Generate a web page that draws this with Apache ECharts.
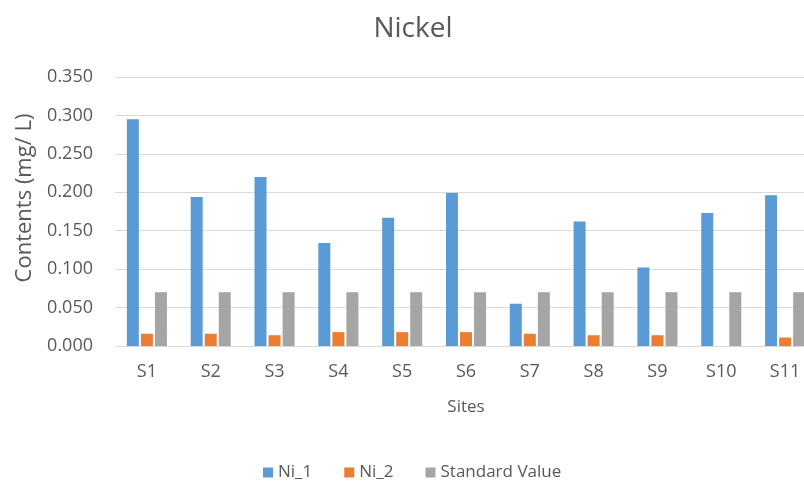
<!DOCTYPE html>
<html>
<head>
<meta charset="utf-8">
<script src="https://cdn.jsdelivr.net/npm/echarts@6/dist/echarts.min.js"></script>
<style>
  html, body { margin: 0; padding: 0; background: #ffffff; overflow: hidden; }
  /* the plot area runs a little past the right edge of the window */
  #chart { width: 817px; height: 482px; }
</style>
</head>
<body>
<div id="chart"></div>
<script>
// Nickel contents by sampling site (mg/L)
var sites = ['S1', 'S2', 'S3', 'S4', 'S5', 'S6', 'S7', 'S8', 'S9', 'S10', 'S11'];
var ni1 = [0.295, 0.194, 0.220, 0.134, 0.167, 0.199, 0.055, 0.162, 0.102, 0.173, 0.196];
var ni2 = [0.016, 0.016, 0.014, 0.018, 0.018, 0.018, 0.016, 0.014, 0.014, null, 0.011];
var standardValue = [0.07, 0.07, 0.07, 0.07, 0.07, 0.07, 0.07, 0.07, 0.07, 0.07, 0.07];
var yTicks = { min: 0, max: 0.35, interval: 0.05 };

var textColor = '#595959';
var fontFamily = '"Open Sans", "Noto Sans", sans-serif';

var chart = echarts.init(document.getElementById('chart'), null, { renderer: 'canvas' });

function barSeries(name, data, color) {
  return {
    name: name,
    type: 'bar',
    data: data,
    barWidth: 12,
    barGap: '17%',
    itemStyle: { color: color },
    emphasis: { disabled: true }
  };
}

chart.setOption({
  animation: false,
  textStyle: { fontFamily: fontFamily, color: textColor },
  title: {
    text: 'Nickel',
    left: 408,
    textAlign: 'center',
    top: 10,
    textStyle: { fontSize: 28, fontWeight: 'normal', color: textColor, fontFamily: fontFamily }
  },
  legend: {
    top: 459,
    left: 258,
    itemWidth: 10,
    itemHeight: 10,
    itemGap: 32,
    icon: 'rect',
    textStyle: { fontSize: 17, color: textColor, fontFamily: fontFamily },
    data: ['Ni_1', 'Ni_2', 'Standard Value']
  },
  grid: { left: 115, right: 0, top: 77, bottom: 136, containLabel: false },
  xAxis: {
    type: 'category',
    data: sites,
    name: 'Sites',
    nameLocation: 'middle',
    nameGap: 53,
    nameTextStyle: { fontSize: 17, color: textColor },
    axisLine: { lineStyle: { color: '#D9D9D9', width: 1 } },
    axisTick: { show: false },
    axisLabel: { fontSize: 18, color: textColor, margin: 17 }
  },
  yAxis: {
    type: 'value',
    min: yTicks.min,
    max: yTicks.max,
    interval: yTicks.interval,
    axisLine: { show: false },
    axisTick: { show: false },
    splitLine: { lineStyle: { color: '#D9D9D9', width: 1 } },
    axisLabel: {
      fontSize: 18,
      color: textColor,
      margin: 22,
      formatter: function (v) { return v.toFixed(3); }
    }
  },
  graphic: [{
    type: 'text',
    x: 25,
    y: 198,
    rotation: Math.PI / 2,
    style: {
      text: 'Contents (mg/ L)',
      fill: textColor,
      font: '22px ' + fontFamily,
      align: 'center',
      verticalAlign: 'middle'
    }
  }],
  series: [
    barSeries('Ni_1', ni1, '#5B9BD5'),
    barSeries('Ni_2', ni2, '#ED7D31'),
    barSeries('Standard Value', standardValue, '#A5A5A5')
  ]
});
</script>
</body>
</html>
